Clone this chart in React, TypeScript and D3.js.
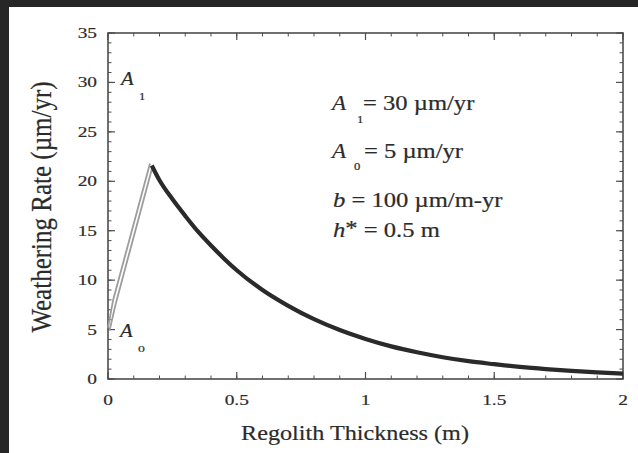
import React from "react";
import * as d3 from "d3";

// Data
const decayH = [0.17, 0.2, 0.25, 0.3, 0.35, 0.4, 0.45, 0.5, 0.6, 0.7, 0.8, 0.9, 1.0, 1.1, 1.2, 1.3, 1.4, 1.5, 1.6, 1.7, 1.8, 1.9, 2.0];
const decayW = [21.6, 20.1, 18.2, 16.5, 14.9, 13.5, 12.2, 11.0, 9.0, 7.4, 6.05, 4.95, 4.05, 3.3, 2.7, 2.2, 1.8, 1.5, 1.22, 1.0, 0.82, 0.67, 0.55];
const riseH1 = [0.0, 0.02, 0.163];
const riseW1 = [5.2, 8.0, 21.8];
const riseH2 = [0.006, 0.03, 0.172];
const riseW2 = [4.9, 7.6, 21.4];
const xTicks = [0, 0.5, 1, 1.5, 2];
const xTickLabels = ["0", "0.5", "1", "1.5", "2"];
const yTicks = [0, 5, 10, 15, 20, 25, 30, 35];
const yTickLabels = ["0", "5", "10", "15", "20", "25", "30", "35"];
const xLabel = "Regolith Thickness (m)";
const yLabel = "Weathering Rate (\u00b5m/yr)";

const W = 638;
const H = 453;
const L = 108, R = 623, T = 33, B = 379;
const FONT = "Liberation Serif, Times New Roman, serif";
const INK = "#2b2b2b";
const AX = "#4d4d4d";
const SW = 0.2;

export default function App() {
  const x = d3.scaleLinear().domain([0, 2]).range([L, R]);
  const y = d3.scaleLinear().domain([0, 35]).range([B, T]);
  const line = d3.line<[number, number]>().x(d => x(d[0])).y(d => y(d[1]));
  const smooth = d3.line<[number, number]>().x(d => x(d[0])).y(d => y(d[1])).curve(d3.curveMonotoneX);

  const decay = decayH.map((h, i) => [h, decayW[i]] as [number, number]);
  const rise1 = riseH1.map((h, i) => [h, riseW1[i]] as [number, number]);
  const rise2 = riseH2.map((h, i) => [h, riseW2[i]] as [number, number]);

  const xMinor = d3.range(0, 2.0001, 0.1);
  const yMinor = d3.range(0, 35.0001, 1);

  const txt = (px: number, py: number, s: string, size: number, anchor: string, sx = 1.2, italic = false, key?: string) => (
    <text key={key} transform={`translate(${px},${py}) scale(${sx},1)`} fontFamily={FONT} fontSize={size}
      textAnchor={anchor} fill={INK} stroke={INK} strokeWidth={SW} fontStyle={italic ? "italic" : "normal"}>{s}</text>
  );

  return (
    <svg width={W} height={H} style={{ position: "absolute", left: 0, top: 0 }}>
      <rect x={0} y={0} width={W} height={H} fill="#ffffff" />
      <rect x={0} y={0} width={W} height={7} fill="#262626" />
      <rect x={0} y={0} width={9} height={H} fill="#262626" />

      {/* minor ticks */}
      {xMinor.map((v, i) => (
        <g key={"xm" + i} stroke={AX} strokeWidth={1}>
          <line x1={x(v)} x2={x(v)} y1={B} y2={B - 3.5} />
          <line x1={x(v)} x2={x(v)} y1={T} y2={T + 3.5} />
        </g>
      ))}
      {yMinor.map((v, i) => (
        <g key={"ym" + i} stroke={AX} strokeWidth={1}>
          <line x1={L} x2={L + 3.5} y1={y(v)} y2={y(v)} />
          <line x1={R} x2={R - 3.5} y1={y(v)} y2={y(v)} />
        </g>
      ))}
      {/* major ticks */}
      {xTicks.map((v, i) => (
        <g key={"xM" + i} stroke={AX} strokeWidth={1.2}>
          <line x1={x(v)} x2={x(v)} y1={B} y2={B - 7} />
          <line x1={x(v)} x2={x(v)} y1={T} y2={T + 7} />
        </g>
      ))}
      {yTicks.map((v, i) => (
        <g key={"yM" + i} stroke={AX} strokeWidth={1.2}>
          <line x1={L} x2={L + 7} y1={y(v)} y2={y(v)} />
          <line x1={R} x2={R - 7} y1={y(v)} y2={y(v)} />
        </g>
      ))}
      <rect x={L} y={T} width={R - L} height={B - T} fill="none" stroke={AX} strokeWidth={1.6} />

      {/* tick labels */}
      {xTicks.map((v, i) => txt(x(v), 405, xTickLabels[i], 15.5, "middle", 1.25, false, "xl" + i))}
      {yTicks.map((v, i) => txt(97, y(v) + 5, yTickLabels[i], 15.5, "end", 1.25, false, "yl" + i))}

      {/* axis titles */}
      {txt(355, 440, xLabel, 22, "middle", 1.1)}
      <text transform={`translate(51,207) scale(1.2,1) rotate(-90)`} fontFamily={FONT} fontSize={25}
        textAnchor="middle" fill={INK} stroke={INK} strokeWidth={SW}>{yLabel}</text>

      {/* curves */}
      <path d={line(rise1) || ""} fill="none" stroke="#9c9c9c" strokeWidth={1.8} />
      <path d={line(rise2) || ""} fill="none" stroke="#9c9c9c" strokeWidth={1.8} />
      <path d={smooth(decay) || ""} fill="none" stroke="#2a2a2a" strokeWidth={4.2} strokeLinejoin="round" />

      {/* curve labels */}
      {txt(121, 85, "A", 18, "start", 1.15, true)}
      {txt(139, 100, "1", 11, "start", 1.15)}
      {txt(120, 337, "A", 18, "start", 1.15, true)}
      {txt(138, 352, "o", 12, "start", 1.15)}

      {/* parameter block */}
      {txt(332, 110, "A", 20, "start", 1.15, true)}
      {txt(357, 123, "1", 11, "start", 1.15)}
      {txt(363, 110, "= 30 \u00b5m/yr", 20, "start", 1.23)}
      {txt(332, 158, "A", 20, "start", 1.15, true)}
      {txt(354, 170, "0", 11, "start", 1.15)}
      {txt(364, 158, "= 5 \u00b5m/yr", 20, "start", 1.23)}
      <text transform="translate(333,207) scale(1.23,1)" fontFamily={FONT} fontSize={20} fill={INK} stroke={INK} strokeWidth={SW}>
        <tspan fontStyle="italic">b</tspan> = 100 {"\u00b5"}m/m-yr
      </text>
      <text transform="translate(333,237) scale(1.23,1)" fontFamily={FONT} fontSize={20} fill={INK} stroke={INK} strokeWidth={SW}>
        <tspan fontStyle="italic">h</tspan><tspan dy={-2}>*</tspan><tspan dy={2}> = 0.5 m</tspan>
      </text>
    </svg>
  );
}
